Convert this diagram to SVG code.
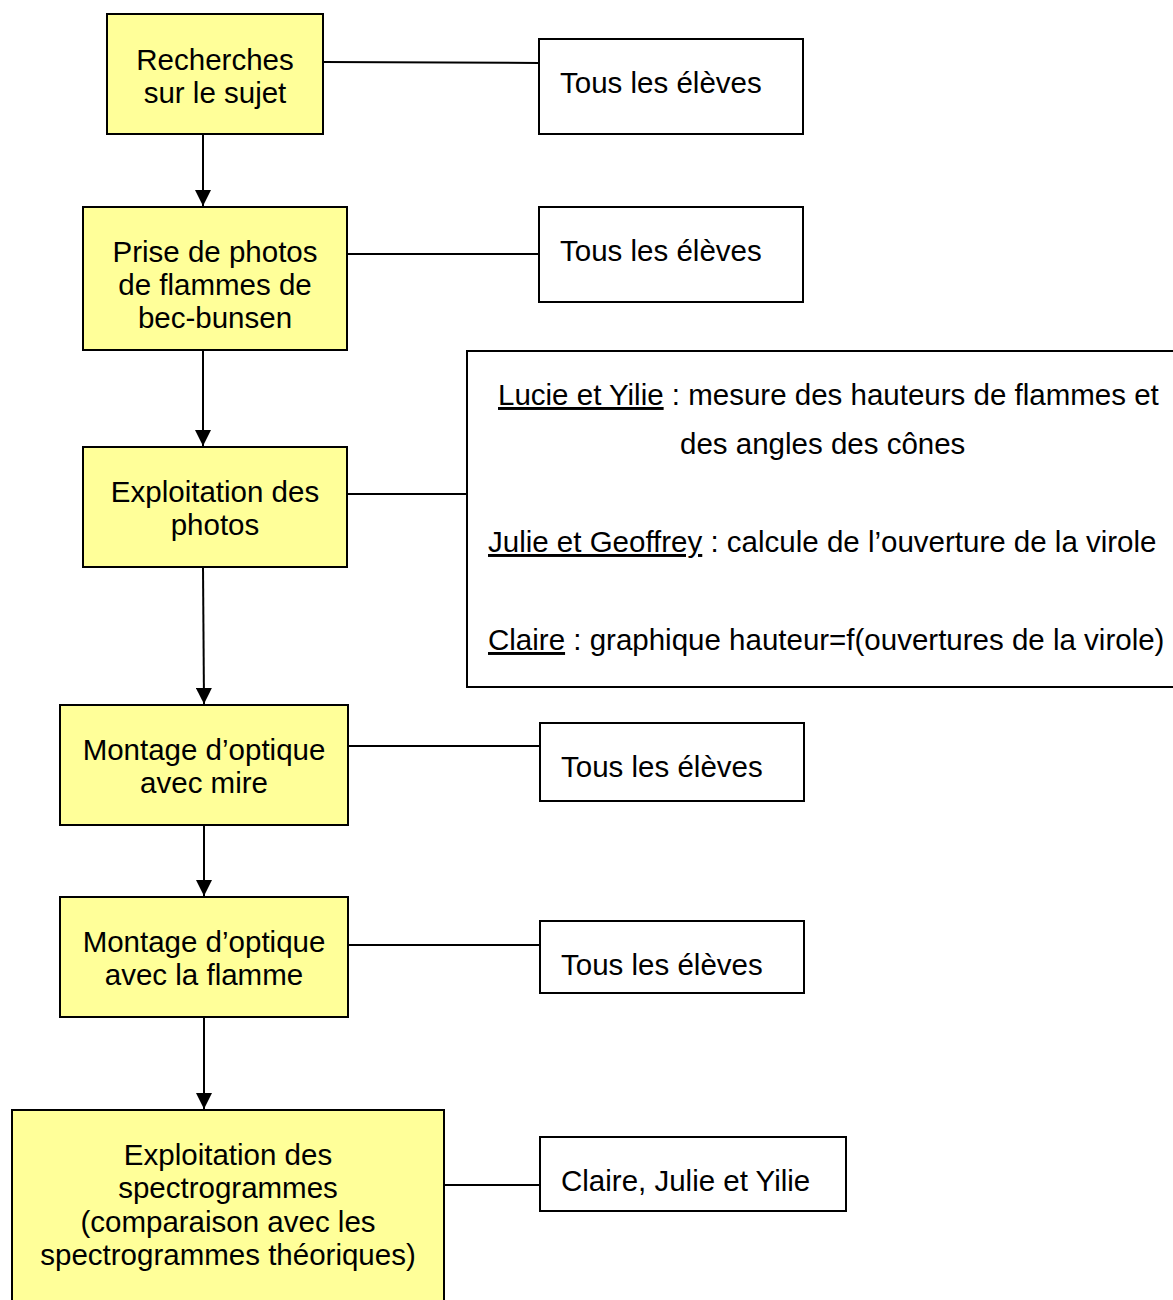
<svg xmlns="http://www.w3.org/2000/svg" width="1173" height="1300" viewBox="0 0 1173 1300">
<defs>
<style>
.step{fill:#ffff99;stroke:#000;stroke-width:2}
.who{fill:#fff;stroke:#000;stroke-width:2}
text{font-family:"Liberation Sans",Arial,sans-serif;font-size:29.5px;fill:#000}
.c{text-anchor:middle}
.u{text-decoration:underline}
.conn line{stroke:#000;stroke-width:2}
</style>
<marker id="ah" viewBox="0 0 14 16" refX="16" refY="8" markerWidth="16" markerHeight="16" markerUnits="userSpaceOnUse" orient="auto">
<path d="M0,0 L16,8 L0,16 Z" fill="#000"/>
</marker>
</defs>
<rect width="1173" height="1300" fill="#fff"/>
<g id="connectors" class="conn">
<line x1="203" y1="134" x2="203" y2="206" marker-end="url(#ah)"/>
<line x1="203" y1="350" x2="203" y2="446" marker-end="url(#ah)"/>
<line x1="203" y1="567" x2="204" y2="704" marker-end="url(#ah)"/>
<line x1="204" y1="825" x2="204" y2="896" marker-end="url(#ah)"/>
<line x1="204" y1="1017" x2="204" y2="1109" marker-end="url(#ah)"/>
<line x1="323" y1="62" x2="539" y2="63"/>
<line x1="347" y1="254" x2="539" y2="254"/>
<line x1="347" y1="494" x2="467" y2="494"/>
<line x1="348" y1="746" x2="540" y2="746"/>
<line x1="348" y1="945" x2="540" y2="945"/>
<line x1="444" y1="1185" x2="540" y2="1185"/>
</g>
<g id="n1"><rect class="step" x="107" y="14" width="216" height="120"/>
<text class="c" x="215" y="70">Recherches</text><text class="c" x="215" y="103">sur le sujet</text></g>
<g id="n2"><rect class="step" x="83" y="207" width="264" height="143"/>
<text class="c" x="215" y="262">Prise de photos</text><text class="c" x="215" y="295">de flammes de</text><text class="c" x="215" y="328">bec-bunsen</text></g>
<g id="n3"><rect class="step" x="83" y="447" width="264" height="120"/>
<text class="c" x="215" y="502">Exploitation des</text><text class="c" x="215" y="535">photos</text></g>
<g id="n4"><rect class="step" x="60" y="705" width="288" height="120"/>
<text class="c" x="204" y="760">Montage d’optique</text><text class="c" x="204" y="793">avec mire</text></g>
<g id="n5"><rect class="step" x="60" y="897" width="288" height="120"/>
<text class="c" x="204" y="952">Montage d’optique</text><text class="c" x="204" y="985">avec la flamme</text></g>
<g id="n6"><rect class="step" x="12" y="1110" width="432" height="200"/>
<text class="c" x="228" y="1165">Exploitation des</text><text class="c" x="228" y="1198">spectrogrammes</text><text class="c" x="228" y="1232">(comparaison avec les</text><text class="c" x="228" y="1265">spectrogrammes théoriques)</text></g>
<g id="wA"><rect class="who" x="539" y="39" width="264" height="95"/>
<text x="560" y="93">Tous les élèves</text></g>
<g id="wB"><rect class="who" x="539" y="207" width="264" height="95"/>
<text x="560" y="261">Tous les élèves</text></g>
<g id="wBig"><rect class="who" x="467" y="351" width="710" height="336"/>
<text x="498" y="405"><tspan class="u">Lucie et Yilie</tspan> : mesure des hauteurs de flammes et</text>
<text x="680" y="454">des angles des cônes</text>
<text x="488" y="552"><tspan class="u">Julie et Geoffrey</tspan> : calcule de l’ouverture de la virole</text>
<text x="488" y="650"><tspan class="u">Claire</tspan> : graphique hauteur=f(ouvertures de la virole)</text></g>
<g id="wC"><rect class="who" x="540" y="723" width="264" height="78"/>
<text x="561" y="777">Tous les élèves</text></g>
<g id="wD"><rect class="who" x="540" y="921" width="264" height="72"/>
<text x="561" y="975">Tous les élèves</text></g>
<g id="wE"><rect class="who" x="540" y="1137" width="306" height="74"/>
<text x="561" y="1191">Claire, Julie et Yilie</text></g>
</svg>
